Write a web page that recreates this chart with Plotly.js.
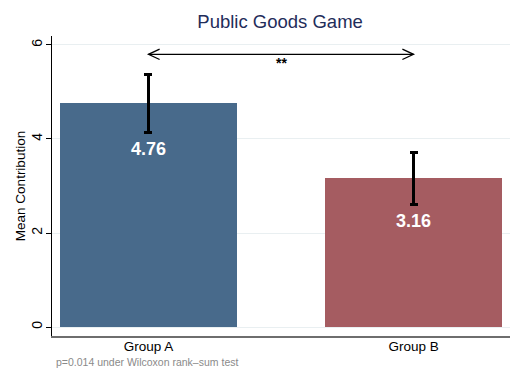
<!DOCTYPE html>
<html>
<head>
<meta charset="utf-8">
<script src="https://cdn.plot.ly/plotly-3.0.1.min.js"></script>
<style>html,body{margin:0;padding:0;background:#fff;}#chart{width:531px;height:383px;}</style>
</head>
<body>
<div id="chart"></div>
<script>
const categories = ["Group A", "Group B"];
const means = [4.76, 3.16];
const errors = [0.62, 0.55];
const barColors = ["#486a8b", "#a55c61"];
const yTicks = [0, 2, 4, 6];
const bracketY = 5.8;
const sigLabel = "**";
const caption = "p=0.014 under Wilcoxon rank\u2013sum test";

const font = "Liberation Sans, Arial, sans-serif";

const bars = {
  type: "bar",
  x: categories,
  y: means,
  width: 0.668,
  marker: {color: barColors, line: {width: 0}},
  error_y: {type: "data", array: errors, visible: true, color: "#000", thickness: 3, width: 4},
  hoverinfo: "skip",
  showlegend: false
};

const arrowLine = {
  type: "scatter", mode: "lines",
  x: categories, y: [bracketY, bracketY],
  line: {color: "#000", width: 1.3},
  hoverinfo: "skip", showlegend: false
};

const dx = 0.042, dy = 0.11;
const shapes = [
  {type: "path", xref: "x", yref: "y",
   path: `M ${dx},${bracketY + dy} L 0,${bracketY} L ${dx},${bracketY - dy}`,
   line: {color: "#000", width: 1.3}},
  {type: "path", xref: "x", yref: "y",
   path: `M ${1 - dx},${bracketY + dy} L 1,${bracketY} L ${1 - dx},${bracketY - dy}`,
   line: {color: "#000", width: 1.3}}
];

const annotations = categories.map((c, i) => ({
  x: c, y: means[i] - errors[i], xref: "x", yref: "y",
  text: "<b>" + means[i].toFixed(2) + "</b>",
  showarrow: false, yanchor: "middle", yshift: -17,
  font: {family: font, size: 18, color: "#fff"}
}));
annotations.push({
  x: 0.5, y: bracketY, xref: "x", yref: "y", text: "<b>" + sigLabel + "</b>",
  showarrow: false, yanchor: "middle", yshift: -9,
  font: {family: font, size: 14, color: "#000"}
});
annotations.push({
  x: 0.004, y: -0.087, xref: "paper", yref: "paper", text: caption,
  showarrow: false, xanchor: "left", yanchor: "middle",
  font: {family: font, size: 10.5, color: "#8a8a8a"}
});

const layout = {
  width: 531, height: 383,
  margin: {l: 52, r: 21, t: 36, b: 47},
  paper_bgcolor: "#fff", plot_bgcolor: "#fff",
  font: {family: font, color: "#000"},
  title: {text: "Public Goods Game", x: 0.498, xref: "paper", xanchor: "center", y: 0.943, yanchor: "middle",
          font: {family: font, size: 18.5, color: "#1f2d5a"}},
  xaxis: {
    type: "category", range: [-0.364, 1.364],
    showline: true, linecolor: "#6e6e6e", linewidth: 1.5,
    ticks: "", showgrid: false, zeroline: false,
    tickfont: {family: font, size: 13.5, color: "#000"}, ticklabelstandoff: -3
  },
  yaxis: {
    range: [-0.19, 6.19], tickvals: yTicks, ticktext: yTicks.map(String),
    showline: true, linecolor: "#000", linewidth: 1,
    ticks: "outside", ticklen: 5, tickcolor: "#000", tickwidth: 1,
    tickangle: -90, tickfont: {family: font, size: 14, color: "#000"}, ticklabelstandoff: -2,
    showgrid: true, gridcolor: "#e9eff1", gridwidth: 1, zeroline: false,
    title: {text: "Mean Contribution", font: {family: font, size: 13.5, color: "#000"}, standoff: 0}
  },
  shapes: shapes,
  annotations: annotations,
  bargap: 0
};

Plotly.newPlot("chart", [bars, arrowLine], layout, {displayModeBar: false, staticPlot: true});
</script>
</body>
</html>
